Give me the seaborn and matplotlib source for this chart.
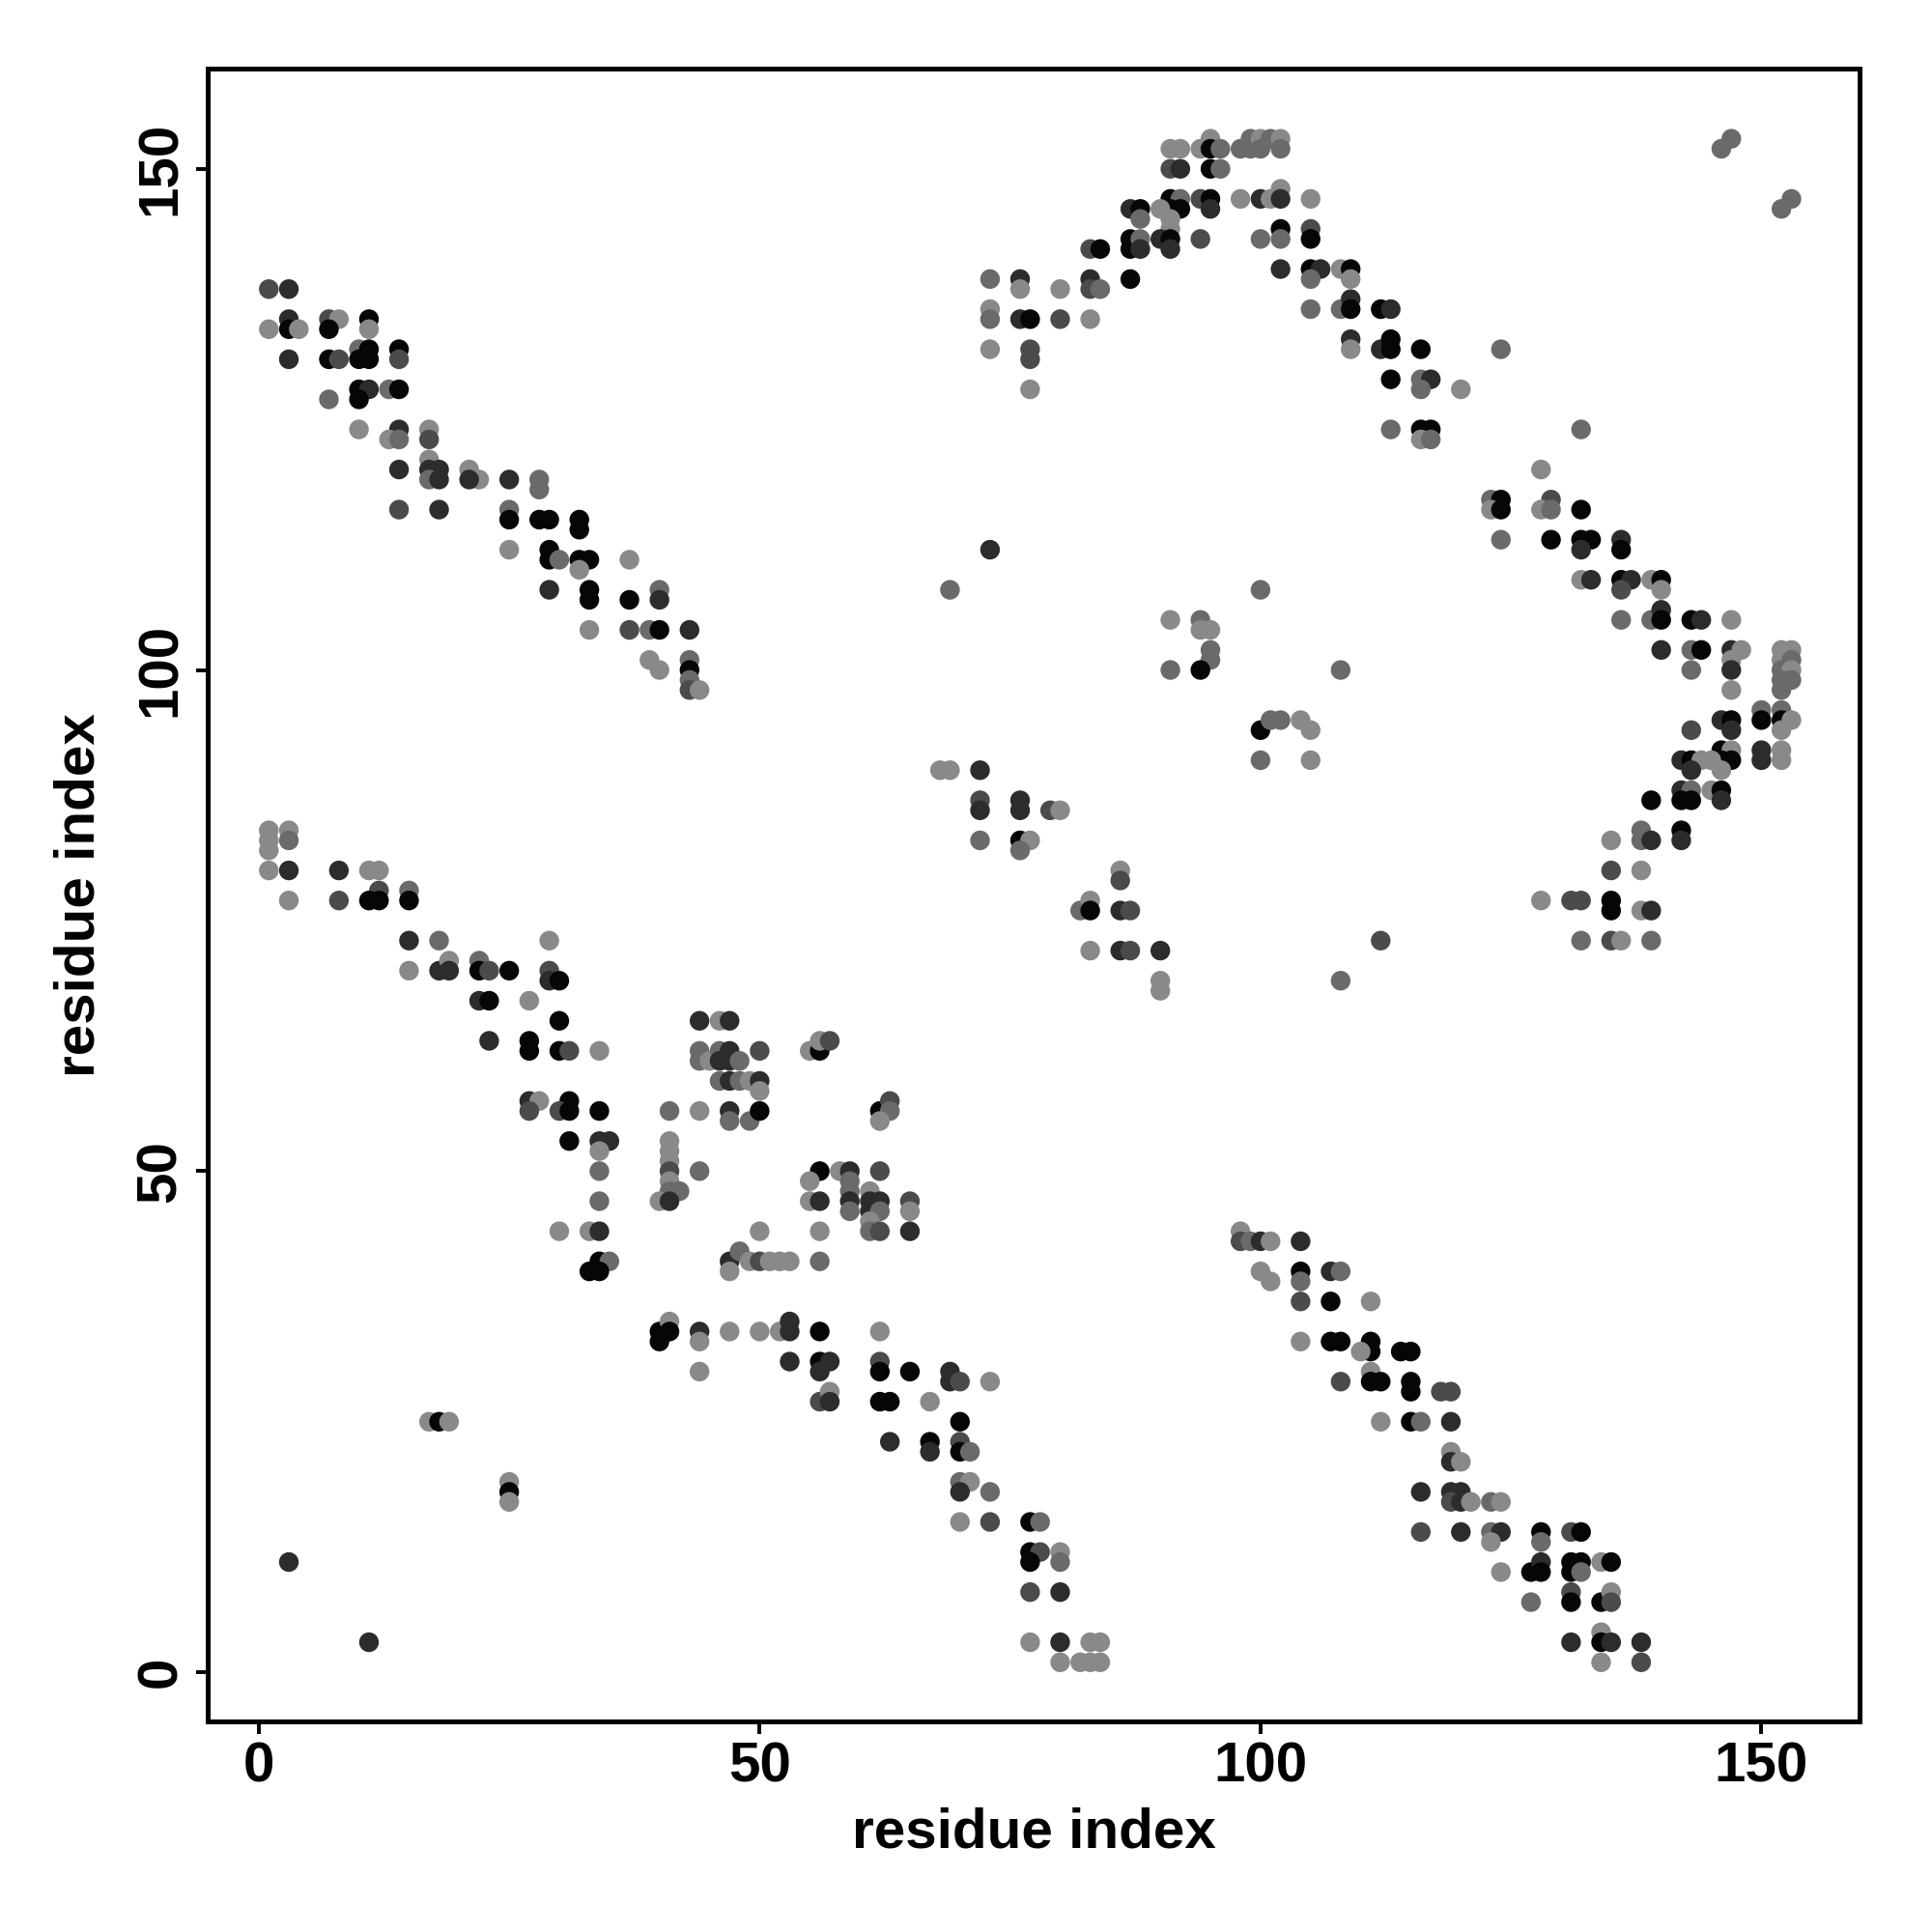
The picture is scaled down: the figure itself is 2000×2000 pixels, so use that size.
import numpy as np
import pandas as pd
import matplotlib
matplotlib.use("Agg")
import matplotlib.pyplot as plt
import seaborn as sns

# contact map: residue i, residue j, grey level (0 = black ... 4 = light grey)
res_i = [
    # top-left strand pairing
    1, 3, 1, 3, 3, 4, 3, 7, 8, 7, 7, 8, 11, 11, 10, 11, 10, 11, 14, 14,
    10, 11, 10, 7, 13, 14, 10, 14, 13, 14, 17, 17, 14, 17, 17, 18, 21, 22, 21, 25,
    28, 17, 18, 28, 14, 18, 25, 25, 28, 29, 32, 32, 25, 29, 29, 30, 32, 33, 32, 37,
    29, 33, 33, 37, 40, 40, 33, 37, 39, 40, 43, 39, 40, 43, 43, 43, 43, 44,
    # lower-left strand pairing
    1, 3, 1, 3, 1, 1, 3, 8, 11, 12, 12, 15, 3, 8, 11, 12, 15, 15, 18, 29,
    15, 18, 19, 19, 22, 22, 23, 25, 29, 29, 30, 22, 23, 27, 30, 23, 27, 27, 30, 31,
    34, 27, 28, 27, 31, 30, 31, 34, 31, 34, 35, 34, 34, 34, 30, 33, 34, 34, 35, 33, 34,
    # middle block
    44, 46, 47, 44, 44, 45, 46, 46, 47, 47, 48, 50, 46, 47, 48, 49, 50, 50,
    41, 44, 47, 47, 49, 50, 41, 41, 41, 41, 41, 41, 42, 40, 41, 44,
    50, 47, 48, 49, 47, 50, 51, 52, 53, 56,
    82, 83, 83, 86, 87, 83, 86, 87, 90, 90, 90,
    55, 56, 56, 57, 62, 63, 63, 62,
    56, 55, 58, 59, 59, 59, 59, 59, 62, 55, 56, 61, 61, 61, 62, 62, 61, 61, 62,
    65, 65, 65, 56,
    98, 98, 99, 100, 101, 104, 100, 101, 104, 104, 104,
    128, 131, 132, 135, 135, 138, 139, 112, 132, 135, 136, 139, 108, 107, 108, 107, 111,
    # bottom diagonal
    40, 40, 41, 41, 44, 44, 44, 47, 17, 18, 19, 25, 25, 25, 3, 11,
    50, 52, 53, 53, 56, 62, 53, 56, 57, 56, 62, 62, 65, 69, 69, 70, 73,
    56, 57, 57, 62, 63, 67, 70, 63, 67, 67, 70, 70, 71, 70, 71, 70, 73,
    70, 73, 77, 78, 77, 78, 77, 80, 80, 77, 80, 77, 80, 83, 84, 80, 82, 83, 84, 104,
    # bottom-right strand pairing
    107, 108, 111, 111, 110, 114, 115, 108, 111, 111, 112, 115, 115, 118, 119,
    112, 115, 116, 119, 119, 119, 120, 116, 119, 120, 119, 120, 121, 123, 124,
    116, 120, 123, 124, 123, 128, 128, 131, 132,
    124, 127, 128, 128, 131, 132, 131, 132, 134, 135,
    127, 131, 131, 134, 135, 135, 134, 131, 134, 135, 138, 134, 138,
    # top arc
    91, 92, 94, 95, 95, 96, 98, 99, 99, 100, 100, 101, 102, 102,
    91, 92, 95, 96, 91, 92, 91, 92, 90, 94, 95, 95, 98, 100, 101, 102, 102,
    87, 88, 88, 91, 91, 87, 87, 88, 88, 90, 91, 91, 94, 100, 102, 102, 102,
    83, 84, 83, 83, 84, 87, 80, 73, 76, 76, 73, 73, 76, 77, 80, 83, 73, 77, 77, 77,
    147, 146, 153, 152,
    105, 105, 105, 105, 106, 108, 109, 109, 105, 105, 108, 109, 109, 112, 113,
    109, 109, 112, 113, 113, 116, 124, 113, 116, 117, 116, 120,
    113, 116, 117, 116, 117, 132, 128,
    # middle islands
    73, 69, 100, 91, 94, 94, 95, 95, 95, 91, 94,
    100, 101, 102, 104, 105, 100, 105,
    68, 69, 72, 72, 72, 76, 76, 79, 80, 72, 76, 77, 76, 86, 86,
    # right strand pairing
    123, 124, 123, 124, 129, 128, 129, 132,
    124, 129, 132, 133, 132, 136, 136,
    132, 133, 136, 137, 136, 139, 140, 140,
    136, 139, 140, 140, 143, 144, 147,
    140, 143, 144, 147, 148, 143, 147, 147, 147,
    152, 153, 152, 153, 152, 153, 152, 153, 152, 108,
    150, 150, 152, 152, 153, 152, 146, 147, 147, 143,
    146, 147, 146, 147, 146, 142, 143, 144, 145, 143,
    150, 150, 152, 152, 142, 143, 142, 143, 145, 146, 146, 139,
    138, 138, 139, 142, 142, 135, 135, 138,
]

res_j = [
    138, 138, 134, 135, 134, 134, 131, 135, 135, 134, 131, 131, 135, 134, 132, 132, 131, 131, 132, 131,
    128, 128, 127, 127, 128, 128, 124, 124, 123, 123, 124, 123, 120, 121, 120, 120, 120, 119, 119, 119,
    119, 119, 119, 118, 116, 116, 116, 115, 115, 115, 115, 114, 112, 112, 111, 111, 111, 111, 110, 111,
    108, 108, 107, 107, 108, 107, 104, 104, 104, 104, 104, 101, 100, 101, 100, 99, 98, 98,
    84, 84, 83, 83, 82, 80, 80, 80, 80, 80, 78, 78, 77, 77, 77, 77, 77, 73, 73, 73,
    70, 70, 71, 70, 71, 70, 70, 70, 70, 69, 69, 67, 67, 67, 65, 63, 63, 62, 62, 62,
    62, 57, 57, 56, 57, 56, 56, 56, 53, 53, 53, 52, 50, 47, 44, 44, 44, 41, 41, 40, 40,
    65, 65, 65, 62, 61, 61, 62, 61, 62, 61, 61, 62, 59, 59, 59, 59, 59, 58,
    56, 56, 56, 55, 55, 56, 53, 52, 51, 50, 49, 48, 48, 47, 47, 50,
    44, 41, 42, 41, 40, 41, 41, 41, 41, 41,
    76, 77, 76, 76, 76, 72, 72, 72, 72, 69, 68,
    62, 62, 63, 63, 56, 57, 56, 55,
    50, 49, 50, 50, 49, 48, 47, 46, 50, 47, 47, 48, 47, 46, 47, 46, 45, 44, 44,
    47, 46, 44, 44,
    44, 43, 43, 43, 43, 43, 40, 39, 40, 39, 37,
    77, 77, 77, 77, 76, 76, 76, 73, 73, 73, 73, 73, 69, 40, 40, 37, 37,
    34, 33, 35, 34, 34, 33, 30, 34, 25, 25, 25, 19, 18, 17, 11, 3,
    34, 34, 35, 34, 34, 34, 31, 31, 31, 30, 31, 30, 30, 30, 29, 29, 29,
    27, 28, 27, 27, 27, 27, 25, 23, 23, 22, 23, 22, 22, 19, 19, 18, 18,
    15, 15, 15, 15, 12, 12, 11, 12, 11, 8, 8, 3, 3, 3, 3, 1, 1, 1, 1, 33,
    33, 33, 33, 32, 32, 32, 32, 29, 30, 29, 29, 29, 28, 28, 28,
    25, 25, 25, 25, 22, 21, 21, 18, 18, 18, 17, 17, 17, 17, 17,
    14, 14, 14, 14, 13, 14, 13, 14, 14,
    10, 10, 11, 10, 11, 11, 10, 10, 11, 11,
    7, 8, 7, 7, 8, 7, 4, 3, 3, 3, 3, 1, 1,
    152, 152, 152, 153, 152, 152, 152, 153, 152, 153, 152, 153, 153, 152,
    150, 150, 150, 150, 147, 147, 146, 146, 146, 147, 147, 146, 147, 147, 147, 148, 147,
    146, 146, 145, 145, 144, 143, 142, 143, 142, 143, 143, 142, 143, 143, 144, 143, 140,
    142, 142, 139, 138, 138, 139, 138, 139, 139, 138, 136, 135, 135, 135, 135, 135, 132, 132, 131, 128,
    153, 152, 147, 146,
    147, 144, 143, 140, 140, 140, 140, 139, 139, 136, 136, 137, 136, 136, 136,
    133, 132, 132, 133, 132, 132, 132, 129, 129, 129, 128, 128,
    124, 124, 124, 123, 123, 124, 120,
    112, 108, 108, 105, 105, 104, 104, 102, 101, 100, 100,
    94, 95, 95, 95, 94, 91, 91,
    90, 90, 90, 87, 86, 87, 86, 86, 86, 83, 83, 83, 82, 80, 79,
    117, 117, 116, 116, 117, 116, 116, 116,
    113, 113, 113, 113, 112, 113, 112,
    109, 109, 109, 109, 108, 109, 109, 108,
    105, 105, 106, 105, 105, 105, 105,
    102, 102, 102, 102, 102, 100, 101, 100, 98,
    102, 102, 101, 101, 100, 100, 99, 99, 98, 100,
    96, 95, 96, 95, 95, 94, 95, 95, 94, 94,
    92, 92, 91, 91, 90, 91, 91, 91, 91, 90,
    92, 91, 92, 91, 88, 88, 87, 87, 88, 88, 87, 87,
    84, 83, 83, 84, 83, 83, 80, 80,
]

grey_level = [
    2, 1, 4, 1, 0, 4, 1, 2, 4, 0, 0, 2, 0, 4, 3, 0, 0, 0, 0, 2,
    0, 1, 0, 3, 3, 0, 4, 1, 4, 3, 4, 2, 1, 4, 1, 1, 4, 4, 1, 1,
    3, 3, 1, 3, 2, 1, 3, 0, 0, 0, 0, 0, 4, 0, 0, 3, 0, 0, 4, 4,
    1, 0, 0, 0, 3, 1, 4, 2, 3, 0, 1, 4, 4, 3, 0, 3, 2, 4,
    4, 4, 4, 3, 4, 4, 1, 1, 4, 4, 2, 3, 4, 2, 0, 0, 0, 1, 3, 4,
    4, 1, 4, 1, 3, 0, 2, 0, 2, 1, 0, 1, 0, 4, 0, 1, 0, 0, 0, 2,
    4, 1, 4, 2, 0, 2, 0, 0, 0, 1, 1, 4, 3, 3, 4, 4, 1, 0, 3, 0, 0,
    1, 4, 1, 3, 3, 4, 3, 1, 1, 1, 3, 2, 3, 1, 3, 4, 1, 4,
    3, 4, 1, 3, 3, 0, 4, 4, 4, 2, 4, 3, 3, 4, 1, 3,
    4, 1, 3, 4, 4, 2, 4, 4, 4, 3,
    3, 4, 0, 1, 2, 4, 1, 2, 1, 4, 4,
    4, 0, 4, 2, 0, 2, 3, 4,
    0, 4, 4, 1, 3, 3, 1, 3, 2, 4, 1, 4, 1, 1, 1, 3, 4, 3, 2,
    2, 4, 1, 4,
    4, 2, 3, 1, 4, 1, 4, 4, 0, 3, 2,
    4, 2, 2, 0, 0, 4, 1, 2, 3, 2, 4, 3, 3, 1, 3, 0, 4,
    0, 0, 4, 0, 1, 4, 4, 4, 4, 0, 4, 4, 0, 4, 1, 1,
    4, 4, 1, 1, 0, 4, 1, 0, 1, 1, 2, 0, 0, 1, 1, 2, 4,
    2, 4, 1, 0, 0, 4, 0, 1, 0, 1, 2, 0, 3, 3, 4, 1, 3,
    4, 2, 0, 3, 0, 2, 0, 4, 3, 2, 1, 4, 1, 4, 4, 4, 4, 4, 4, 4,
    0, 0, 0, 0, 4, 0, 0, 2, 4, 0, 0, 0, 0, 2, 2,
    4, 0, 3, 1, 4, 1, 4, 1, 1, 1, 2, 1, 4, 3, 4,
    2, 1, 3, 1, 4, 0, 3, 2, 0,
    4, 0, 1, 0, 0, 0, 0, 3, 4, 0,
    3, 2, 0, 0, 4, 2, 4, 1, 0, 1, 1, 4, 2,
    4, 4, 4, 4, 0, 3, 3, 3, 3, 4, 3, 3, 4, 3,
    2, 1, 0, 3, 0, 3, 0, 0, 4, 2, 0, 1, 4, 1, 4, 4, 1,
    1, 0, 3, 4, 4, 0, 0, 3, 1, 1, 0, 1, 2, 3, 0, 3, 1,
    2, 0, 1, 2, 3, 0, 4, 3, 1, 4, 4, 3, 1, 0, 2, 4, 4, 2, 2, 4,
    3, 3, 3, 3,
    4, 2, 0, 0, 1, 4, 0, 4, 3, 3, 3, 1, 0, 0, 1,
    1, 4, 1, 0, 0, 0, 3, 0, 3, 1, 3, 4,
    3, 0, 0, 4, 3, 3, 4,
    1, 3, 3, 4, 3, 4, 4, 3, 3, 3, 0,
    0, 3, 3, 4, 4, 3, 4,
    4, 4, 1, 2, 1, 1, 1, 2, 4, 3, 0, 4, 3, 4, 2,
    3, 0, 4, 0, 2, 4, 3, 0,
    3, 0, 0, 0, 1, 1, 0,
    4, 1, 0, 1, 2, 4, 0, 4,
    3, 3, 1, 0, 0, 1, 4,
    1, 3, 0, 1, 4, 3, 4, 1, 4,
    4, 4, 4, 3, 3, 4, 3, 3, 3, 3,
    3, 0, 3, 0, 4, 4, 1, 0, 1, 2,
    0, 4, 0, 0, 4, 1, 0, 4, 4, 1,
    1, 1, 4, 4, 1, 3, 0, 0, 4, 0, 1, 0,
    3, 3, 1, 0, 1, 4, 2, 4,
]

grey_colours = {0: "#060606", 1: "#2c2c2c", 2: "#4b4b4b", 3: "#6a6a6a", 4: "#898989"}

df = pd.DataFrame({"i": res_i, "j": res_j, "grey": grey_level})

fig = plt.figure(figsize=(20, 20), dpi=100)
ax = fig.add_axes([0.1075, 0.109, 0.855, 0.8555])

sns.scatterplot(data=df, x="i", y="j", hue="grey", palette=grey_colours,
                s=215, linewidth=0, alpha=1.0, legend=False, ax=ax)

ax.set_xlim(-5.1, 159.8)
ax.set_ylim(-4.9, 160.0)
ax.set_xticks([0, 50, 100, 150])
ax.set_yticks([0, 50, 100, 150])

font = {"family": "Liberation Sans", "weight": "bold", "size": 42}
ax.set_xticklabels(["0", "50", "100", "150"], fontdict=font)
ax.set_yticklabels(["0", "50", "100", "150"], fontdict=font, rotation=90, va="center")
ax.set_xlabel("residue index", fontdict=font, labelpad=10)
ax.set_ylabel("residue index", fontdict=font, labelpad=22)

ax.tick_params(axis="both", direction="out", length=9, width=2.8, pad=6)
for side in ax.spines.values():
    side.set_linewidth(3.6)
    side.set_color("black")
ax.grid(False)
ax.set_facecolor("white")

fig.savefig("out.png", dpi=100, facecolor="white")
